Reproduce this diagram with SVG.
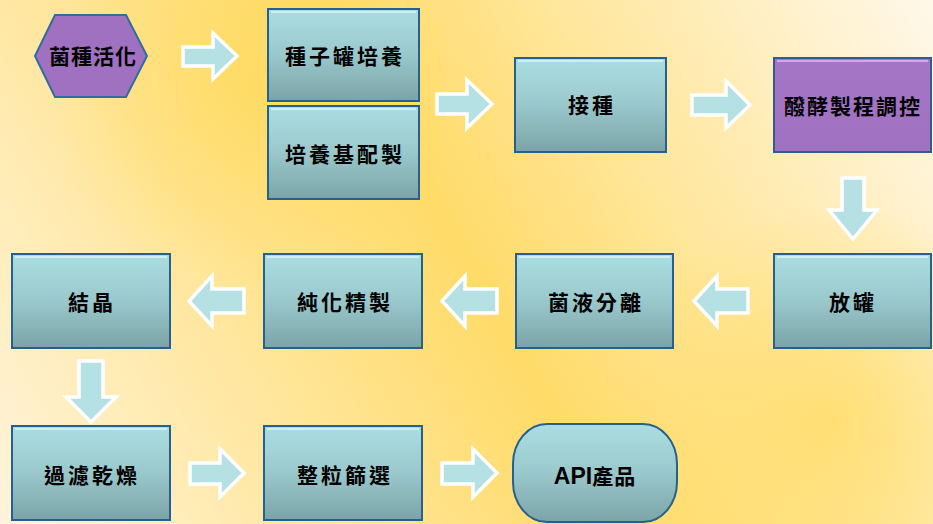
<svg xmlns="http://www.w3.org/2000/svg" width="933" height="524" viewBox="0 0 933 524">
<defs>
<linearGradient id="bg" x1="0" y1="524" x2="933" y2="0" gradientUnits="userSpaceOnUse">
<stop offset="0" stop-color="#FFF4DC"/>
<stop offset="0.3" stop-color="#FFE597"/>
<stop offset="0.5" stop-color="#FFDB68"/>
<stop offset="0.7" stop-color="#FFE79E"/>
<stop offset="1" stop-color="#FFF8EA"/>
</linearGradient>
<radialGradient id="glow1" cx="250" cy="90" r="200" gradientUnits="userSpaceOnUse">
<stop offset="0" stop-color="#FFD955" stop-opacity="0.6"/>
<stop offset="1" stop-color="#FFD955" stop-opacity="0"/>
</radialGradient>
<radialGradient id="glow2" cx="830" cy="420" r="220" gradientUnits="userSpaceOnUse">
<stop offset="0" stop-color="#FFD955" stop-opacity="0.6"/>
<stop offset="1" stop-color="#FFD955" stop-opacity="0"/>
</radialGradient>
<linearGradient id="teal" x1="0" y1="0" x2="0" y2="1">
<stop offset="0" stop-color="#AADDE1"/>
<stop offset="0.45" stop-color="#9CCBCF"/>
<stop offset="1" stop-color="#7CA4A8"/>
</linearGradient>
<linearGradient id="purple" x1="0" y1="0" x2="0" y2="1">
<stop offset="0" stop-color="#A676C6"/>
<stop offset="1" stop-color="#9F71C0"/>
</linearGradient>
<style>
.box{fill:url(#teal);stroke:#25608F;stroke-width:2}
.pbox{fill:url(#purple);stroke:#2E5E8E;stroke-width:2}
.hi{fill:none;stroke:#D8F2F4;stroke-width:2;stroke-opacity:0.8}
.phi{fill:none;stroke:#D9B6F0;stroke-width:2;stroke-opacity:0.8}
.lbl{font-family:"Noto Sans CJK TC","Noto Sans CJK SC",sans-serif;font-weight:700;font-size:21px;fill:#000;text-anchor:middle;letter-spacing:3px}
.arr{fill:#B5E0E4;stroke:#FFFFFF;stroke-width:3.5;stroke-linejoin:miter}
</style>
</defs>
<rect x="0" y="0" width="933" height="524" fill="url(#bg)"/>
<rect x="0" y="0" width="933" height="524" fill="url(#glow1)"/>
<rect x="0" y="0" width="933" height="524" fill="url(#glow2)"/>

<g id="connectors">
<polygon class="arr" points="183,47 213,47 213,33 237,56 213,79 213,66 183,66"/>
<polygon class="arr" points="437,94 467,94 467,80 492,104 467,128 467,114 437,114"/>
<polygon class="arr" points="692,95 726,95 726,81 750,105 726,128 726,115 692,115"/>
<polygon class="arr" points="842,178 864,178 864,210 877,210 853,239 829,210 842,210"/>
<polygon class="arr" points="244,289 212,289 212,276 189,301 212,326 212,313 244,313"/>
<polygon class="arr" points="497,289 465,289 465,276 442,301 465,326 465,313 497,313"/>
<polygon class="arr" points="748,289 717,289 717,276 694,301 717,326 717,313 748,313"/>
<polygon class="arr" points="79,361 103,361 103,397 116,397 91,422 66,397 79,397"/>
<polygon class="arr" points="190,463 220,463 220,449 244,473 220,497 220,484 190,484"/>
<polygon class="arr" points="442,463 473,463 473,449 497,473 473,497 473,484 442,484"/>
</g>

<g id="n1">
<polygon points="35,56 55,15 126,15 147,56 126,97 55,97" fill="#A071C1" stroke="#2E6E9E" stroke-width="2"/>
<text class="lbl" x="93" y="64" style="letter-spacing:1px">菌種活化</text>
</g>
<g id="n2">
<rect class="box" x="268" y="9" width="151" height="92"/>
<line class="hi" x1="271" y1="12" x2="416" y2="12"/>
<text class="lbl" x="345" y="64">種子罐培養</text>
</g>
<g id="n3">
<rect class="box" x="268" y="106" width="151" height="93"/>
<line class="hi" x1="271" y1="109" x2="416" y2="109"/>
<text class="lbl" x="345" y="162">培養基配製</text>
</g>
<g id="n4">
<rect class="box" x="515" y="58" width="151" height="94"/>
<line class="hi" x1="518" y1="61" x2="663" y2="61"/>
<text class="lbl" x="592" y="113">接種</text>
</g>
<g id="n5">
<rect class="pbox" x="774" y="58" width="157" height="94"/>
<line class="phi" x1="777" y1="61" x2="928" y2="61"/>
<text class="lbl" x="853" y="114" style="letter-spacing:2px">醱酵製程調控</text>
</g>
<g id="n6">
<rect class="box" x="774" y="254" width="157" height="94"/>
<line class="hi" x1="777" y1="257" x2="928" y2="257"/>
<text class="lbl" x="853" y="310">放罐</text>
</g>
<g id="n7">
<rect class="box" x="516" y="254" width="157" height="94"/>
<line class="hi" x1="519" y1="257" x2="670" y2="257"/>
<text class="lbl" x="596" y="310">菌液分離</text>
</g>
<g id="n8">
<rect class="box" x="264" y="254" width="158" height="94"/>
<line class="hi" x1="267" y1="257" x2="419" y2="257"/>
<text class="lbl" x="345" y="310">純化精製</text>
</g>
<g id="n9">
<rect class="box" x="12" y="254" width="158" height="94"/>
<line class="hi" x1="15" y1="257" x2="167" y2="257"/>
<text class="lbl" x="92" y="310">結晶</text>
</g>
<g id="n10">
<rect class="box" x="12" y="426" width="158" height="94"/>
<line class="hi" x1="15" y1="429" x2="167" y2="429"/>
<text class="lbl" x="92" y="483">過濾乾燥</text>
</g>
<g id="n11">
<rect class="box" x="264" y="426" width="158" height="94"/>
<line class="hi" x1="267" y1="429" x2="419" y2="429"/>
<text class="lbl" x="345" y="483">整粒篩選</text>
</g>
<g id="n12">
<rect class="box" x="513" y="424" width="164" height="98" rx="34" ry="40"/>
<text class="lbl" x="595" y="484" style="letter-spacing:1px"><tspan style="font-family:'Liberation Sans',Arial,sans-serif;font-size:23px;letter-spacing:0">API</tspan>產品</text>
</g>
</svg>
